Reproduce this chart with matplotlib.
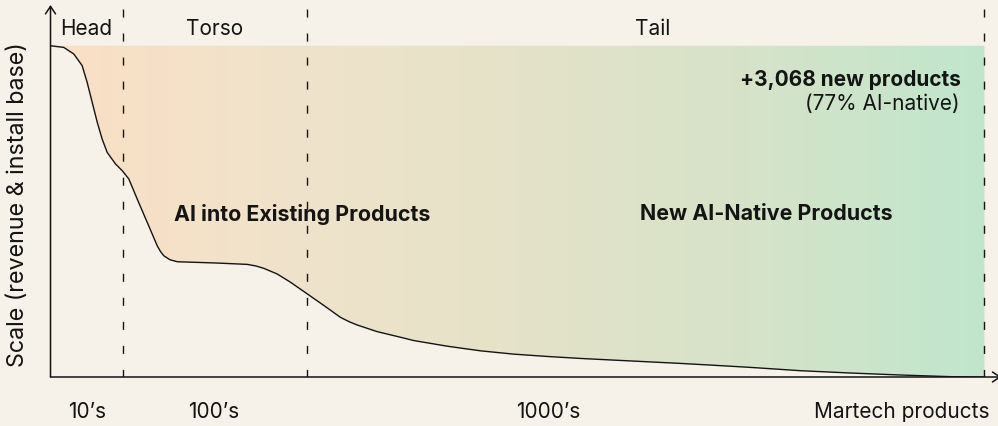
import numpy as np
import matplotlib
matplotlib.use("Agg")
import matplotlib.pyplot as plt
from matplotlib.colors import LinearSegmentedColormap

plt.rcParams["font.family"] = ["Inter", "DejaVu Sans"]

# Long-tail curve: share of products (rank, 0..1) vs. scale (0..100)
rank = [0.0, 0.0140, 0.0246, 0.0334, 0.0387, 0.0440, 0.0493, 0.0545, 0.0598,
        0.0686, 0.0756, 0.0826, 0.0915, 0.1020, 0.1126, 0.1160, 0.1195, 0.1260,
        0.1337, 0.1758, 0.2075, 0.2170, 0.2250, 0.2391, 0.2532, 0.2708, 0.2883,
        0.3059, 0.3150, 0.3235, 0.3446, 0.3692, 0.3832, 0.4185, 0.4536, 0.4887,
        0.5239, 0.5591, 0.5942, 0.6294, 0.6646, 0.6962, 0.7384, 0.7911, 0.8439,
        0.8966, 0.9494, 0.9852]
scale = [100.0, 99.5, 97.5, 94.0, 88.9, 82.9, 76.9, 71.8, 67.8,
         64.3, 62.3, 59.8, 53.7, 46.7, 39.6, 37.9, 36.6, 35.4,
         34.8, 34.4, 34.0, 33.5, 32.8, 31.1, 28.6, 25.1, 21.6,
         18.0, 16.7, 15.7, 13.7, 12.0, 11.0, 9.3, 7.9, 6.9,
         6.2, 5.6, 5.1, 4.6, 4.1, 3.6, 2.9, 1.9, 1.2,
         0.6, 0.1, 0.0]

# Segment boundaries (head | torso | tail end)
boundaries = [0.077, 0.271, 0.985]
segment_names = ["Head", "Torso", "Tail"]
segment_centers = [0.038, 0.173, 0.635]
magnitude_labels = ["10\u2019s", "100\u2019s", "1000\u2019s"]
magnitude_centers = [0.039, 0.172, 0.525]

BG = "#f6f2ea"
INK = "#141414"
grad_colors = ["#fadfc5", "#f0e3cb", "#e4e2c8", "#d6e3c9", "#c0e6cc"]

fig = plt.figure(figsize=(9.98, 4.27), dpi=100, facecolor=BG)
ax = fig.add_axes([50.5 / 998, 49 / 427, 948 / 998, 372 / 427])
ax.set_facecolor(BG)
ax.set_xlim(0, 1)
ax.set_ylim(0, 112.3)
for s in ax.spines.values():
    s.set_visible(False)
ax.set_xticks([])
ax.set_yticks([])

# Gradient band between the curve and the top of the scale
x_end = rank[-1]
poly = ax.fill_between(rank, scale, 100, facecolor="none", edgecolor="none")
cmap = LinearSegmentedColormap.from_list("band", grad_colors)
grad = np.linspace(0, 1, 512).reshape(1, -1)
im = ax.imshow(grad, cmap=cmap, aspect="auto", extent=(0, x_end, 0, 100),
               origin="lower", zorder=1, interpolation="bicubic")
im.set_clip_path(poly.get_paths()[0], transform=ax.transData)

# Curve
ax.plot(rank, scale, color=INK, lw=1.0, zorder=3, solid_joinstyle="round")

# Segment dividers
for b in boundaries:
    ax.plot([b, b], [111.0, 0], color=INK, lw=1.0, dashes=(5.8, 11.5), zorder=2)

# Axes with arrowheads
arrow = dict(arrowstyle="->,head_length=0.45,head_width=0.3", color=INK,
             lw=1.1, mutation_scale=12, shrinkA=0, shrinkB=0)
ax.annotate("", xy=(0, 1.0), xytext=(0, 0), xycoords="axes fraction",
            arrowprops=arrow, annotation_clip=False, zorder=4)
ax.annotate("", xy=(1.003, 0), xytext=(0, 0), xycoords="axes fraction",
            arrowprops=arrow, annotation_clip=False, zorder=4)

fs = 15.0
fs_bold = 15.4
for name, cx in zip(segment_names, segment_centers):
    ax.text(cx, 105.5, name, ha="center", va="center", fontsize=fs, color=INK)
for lab, cx in zip(magnitude_labels, magnitude_centers):
    ax.text(cx, -10.2, lab, ha="center", va="center", fontsize=fs, color=INK)
ax.text(0.991, -10.2, "Martech products", ha="right", va="center",
        fontsize=fs, color=INK)

ax.text(0.265, 49.4, "AI into Existing Products", ha="center", va="center",
        fontsize=fs_bold, fontweight="bold", color=INK)
ax.text(0.755, 49.4, "New AI-Native Products", ha="center", va="center",
        fontsize=fs_bold, fontweight="bold", color=INK)
ax.text(0.96, 90.1, "+3,068 new products", ha="right", va="center",
        fontsize=fs, fontweight="bold", color=INK)
ax.text(0.959, 82.6, "(77% AI-native)", ha="right", va="center",
        fontsize=fs, color=INK)

fig.text(18 / 998, 1 - 205 / 427, "Scale (revenue & install base)", rotation=90,
         ha="center", va="center", fontsize=16.8, color=INK)

fig.savefig("out.png", dpi=100, facecolor=BG)
